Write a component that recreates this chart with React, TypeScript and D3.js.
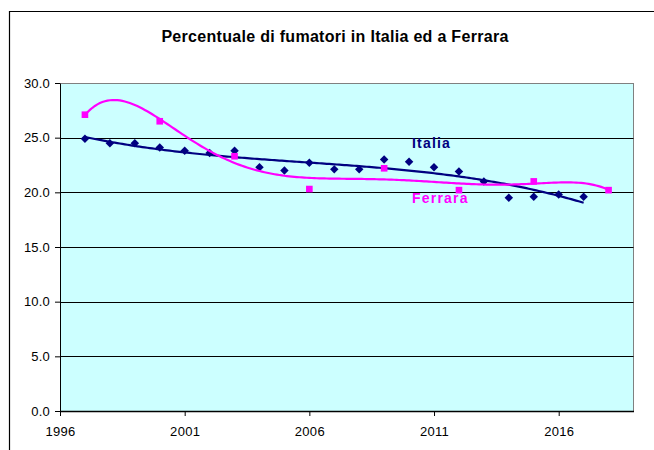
import React, { useEffect, useRef } from 'react';
import * as d3 from 'd3';

// dati
const italiaYears = [1997, 1998, 1999, 2000, 2001, 2002, 2003, 2004, 2005, 2006, 2007, 2008, 2009, 2010, 2011, 2012, 2013, 2014, 2015, 2016, 2017];
const italiaValues = [24.9, 24.5, 24.5, 24.1, 23.8, 23.6, 23.8, 22.3, 22.0, 22.7, 22.1, 22.1, 23.0, 22.8, 22.3, 21.9, 21.0, 19.5, 19.6, 19.8, 19.6];

const ferraraYears = [1997, 2000, 2003, 2006, 2009, 2012, 2015, 2018];
const ferraraValues = [27.1, 26.5, 23.3, 20.3, 22.2, 20.2, 21.0, 20.2];

const yTicks = [0, 5, 10, 15, 20, 25, 30];
const xTicks = [1996, 2001, 2006, 2011, 2016];

const W = 654;
const H = 450;

// linea di tendenza polinomiale (minimi quadrati, come Excel)
function polyfit(xs: number[], ys: number[], order: number) {
  const mean = d3.mean(xs) as number;
  const scale = 10;
  const n = order + 1;
  const A: number[][] = Array.from({ length: n }, () => new Array(n + 1).fill(0));
  xs.forEach((x, k) => {
    const t = (x - mean) / scale;
    for (let i = 0; i < n; i++) {
      for (let j = 0; j < n; j++) A[i][j] += Math.pow(t, i + j);
      A[i][n] += Math.pow(t, i) * ys[k];
    }
  });
  for (let c = 0; c < n; c++) {
    let p = c;
    for (let r = c + 1; r < n; r++) if (Math.abs(A[r][c]) > Math.abs(A[p][c])) p = r;
    [A[c], A[p]] = [A[p], A[c]];
    for (let r = 0; r < n; r++) {
      if (r === c) continue;
      const f = A[r][c] / A[c][c];
      for (let j = c; j <= n; j++) A[r][j] -= f * A[c][j];
    }
  }
  const coef = A.map((row, i) => row[n] / row[i]);
  return (x: number) => {
    const t = (x - mean) / scale;
    return coef.reduce((s, c, i) => s + c * Math.pow(t, i), 0);
  };
}

const App: React.FC = () => {
  const svgRef = useRef<SVGSVGElement>(null);

  useEffect(() => {
    if (!svgRef.current) return;
    const svg = d3.select(svgRef.current);
    svg.selectAll('*').remove();

    const left = 60;
    const right = 633.5;
    const top = 83;
    const bottom = 411;
    const font = 'Arial, "Liberation Sans", sans-serif';

    const x = d3.scaleLinear().domain([1996, 2019]).range([left, right]);
    const y = d3.scaleLinear().domain([0, 30]).range([bottom, top]);

    // cornice esterna
    svg.append('rect').attr('width', W).attr('height', H).style('fill', '#fff');
    svg
      .append('path')
      .attr('d', `M9.5,${H + 2} V11.5 H${W + 2}`)
      .style('fill', 'none')
      .style('stroke', '#000')
      .style('stroke-width', 1.2);

    // titolo
    svg
      .append('text')
      .attr('x', 335)
      .attr('y', 42)
      .attr('text-anchor', 'middle')
      .style('font-family', font)
      .style('font-size', '16px')
      .style('font-weight', 'bold')
      .style('letter-spacing', '0.3px')
      .text('Percentuale di fumatori in Italia ed a Ferrara');

    // area del grafico
    svg
      .append('rect')
      .attr('x', left)
      .attr('y', top)
      .attr('width', right - left)
      .attr('height', bottom - top)
      .style('fill', '#CCFFFF')
      .style('stroke', '#808080')
      .style('stroke-width', 1)
      .attr('shape-rendering', 'crispEdges');

    // griglia
    svg
      .selectAll('.grid')
      .data(yTicks.filter((d) => d > 0 && d < 30))
      .enter()
      .append('line')
      .attr('x1', left)
      .attr('x2', right)
      .attr('y1', (d) => Math.round(y(d)) + 0.5)
      .attr('y2', (d) => Math.round(y(d)) + 0.5)
      .style('stroke', '#000')
      .style('stroke-width', 1);

    // asse Y
    const yAxis = svg
      .append('g')
      .attr('transform', `translate(${left},0)`)
      .call(
        d3
          .axisLeft(y)
          .tickValues(yTicks)
          .tickSize(5)
          .tickSizeOuter(0)
          .tickPadding(5)
          .tickFormat(d3.format('.1f')),
      );
    yAxis.select('.domain').style('stroke', '#000');
    yAxis
      .selectAll('text')
      .style('font-family', font)
      .style('font-size', '13px')
      .style('letter-spacing', '0.2px')
      .style('fill', '#000');

    // asse X
    const xAxis = svg
      .append('g')
      .attr('transform', `translate(0,${bottom})`)
      .call(
        d3
          .axisBottom(x)
          .tickValues(xTicks)
          .tickSize(5)
          .tickSizeOuter(0)
          .tickFormat(d3.format('d')),
      );
    xAxis.select('.domain').style('stroke', '#000').style('stroke-width', 1.5);
    xAxis
      .selectAll('text')
      .attr('y', 25)
      .attr('dy', 0)
      .style('font-family', font)
      .style('font-size', '13px')
      .style('letter-spacing', '0.3px')
      .style('fill', '#000');

    const line = d3.line<number>().x((d) => x(d));

    const series = [
      { years: italiaYears, values: italiaValues, color: '#000080', order: 3, shape: d3.symbolSquare, size: 36, rot: 45 },
      { years: ferraraYears, values: ferraraValues, color: '#FF00FF', order: 6, shape: d3.symbolSquare, size: 44, rot: 0 },
    ];

    series.forEach((s) => {
      const f = polyfit(s.years, s.values, s.order);
      const xs = d3.range(s.years[0], s.years[s.years.length - 1] + 0.001, 0.1);
      svg
        .append('path')
        .datum(xs)
        .attr('d', line.y((d) => y(f(d))))
        .style('fill', 'none')
        .style('stroke', s.color)
        .style('stroke-width', 2.2);

      svg
        .selectAll(null)
        .data(s.years.map((yr, i) => [yr, s.values[i]]))
        .enter()
        .append('path')
        .attr('d', d3.symbol().type(s.shape).size(s.size)())
        .attr('transform', (d) => `translate(${x(d[0])},${y(d[1])}) rotate(${s.rot})`)
        .style('fill', s.color);
    });

    // etichette delle serie
    svg
      .append('text')
      .attr('x', 412)
      .attr('y', 148)
      .style('font-family', font)
      .style('font-size', '14px')
      .style('font-weight', 'bold')
      .style('letter-spacing', '1.2px')
      .style('fill', '#000080')
      .text('Italia');
    svg
      .append('text')
      .attr('x', 412)
      .attr('y', 203)
      .style('font-family', font)
      .style('font-size', '14px')
      .style('font-weight', 'bold')
      .style('letter-spacing', '1.2px')
      .style('fill', '#FF00FF')
      .text('Ferrara');
  }, []);

  return (
    <svg
      ref={svgRef}
      width={W}
      height={H}
      style={{ position: 'absolute', left: 0, top: 0, display: 'block' }}
    />
  );
};

export default App;
